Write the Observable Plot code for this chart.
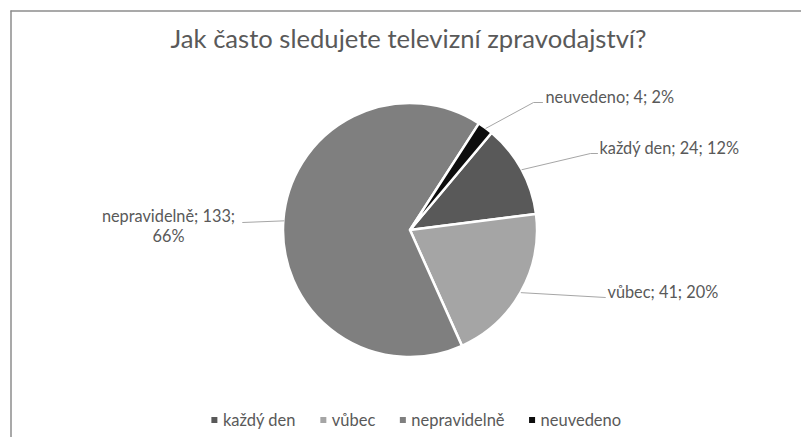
<!DOCTYPE html>
<html>
<head>
<meta charset="utf-8">
<script src="https://cdn.jsdelivr.net/npm/d3@7"></script>
<script src="https://cdn.jsdelivr.net/npm/@observablehq/plot@0.6"></script>
<style>
  body { margin: 0; background: #fff; }
  #chart svg { display: block; }
</style>
</head>
<body>
<div id="chart"></div>
<script>
// ---- data ----
const title = "Jak často sledujete televizní zpravodajství?";
const categories = ["každý den", "vůbec", "nepravidelně", "neuvedeno"];
const counts = [24, 41, 133, 4];
const percents = [12, 20, 66, 2];
const colors = ["#595959", "#a5a5a5", "#7f7f7f", "#0d0d0d"];

const data = categories.map((c, i) => ({category: c, count: counts[i], pct: percents[i]}));

// ---- layout ----
const W = 801, H = 437;
const FONT = "Lato, 'Open Sans', sans-serif";
const TEXT = "#595959";
const cx = 410, cy = 230, r = 127;
const firstSliceAngle = 40; // degrees, clockwise from 12 o'clock

const canvas = document.createElement("canvas").getContext("2d");
function measure(s, size) { canvas.font = `${size}px Lato`; return canvas.measureText(s).width; }
// fit font sizes to the reference's text widths (Calibri substitute)
const titleSize = 476 / measure(title, 100) * 100;
const labelSize = 140 / measure("každý den; 24; 12%", 100) * 100;
const legendSize = 73 / measure("každý den", 100) * 100;

const pie = d3.pie().sort(null).value(d => d.count)
  .startAngle(firstSliceAngle * Math.PI / 180)
  .endAngle((firstSliceAngle + 360) * Math.PI / 180);
const arcs = pie(data);
const mid = a => (a.startAngle + a.endAngle) / 2;
const edge = a => [cx + r * Math.sin(mid(a)), cy - r * Math.cos(mid(a))];

// label placement (Excel "best fit" look), offsets from pie centre
const labelLayout = {
  "neuvedeno":    {elbow: [123, -128], end: [132, -128], text: [135, -128], anchor: "start"},
  "každý den":    {elbow: [180, -77],  end: [187, -77],  text: [189, -77],  anchor: "start"},
  "vůbec":        {elbow: [195, 67],   end: [195, 67],   text: [197, 67],   anchor: "start"},
  "nepravidelně": {elbow: [-168, -8],  end: [-168, -8],  text: [-242, 11],  anchor: "middle"}
};

const leaders = arcs.flatMap(a => {
  const L = labelLayout[a.data.category];
  const e = edge(a);
  return [
    {category: a.data.category, x: e[0], y: e[1]},
    {category: a.data.category, x: cx + L.elbow[0], y: cy + L.elbow[1]},
    {category: a.data.category, x: cx + L.end[0], y: cy + L.end[1]}
  ];
});

const labels = arcs.map(a => {
  const L = labelLayout[a.data.category];
  const d = a.data;
  const txt = d.category === "nepravidelně"
    ? `${d.category}; ${d.count};\n${d.pct}%`
    : `${d.category}; ${d.count}; ${d.pct}%`;
  return {category: d.category, x: cx + L.text[0], y: cy + L.text[1], text: txt, anchor: L.anchor};
});

// legend items laid out from measured widths
const sq = 6, gapIn = 5, gapOut = 25, legendCenter = 416, legendY = 420;
const widths = categories.map(c => measure(c, legendSize));
const total = d3.sum(widths) + categories.length * (sq + gapIn) + gapOut * (categories.length - 1);
let lx = legendCenter - total / 2;
const legend = categories.map((c, i) => {
  const item = {category: c, x1: lx, x2: lx + sq, y1: legendY - sq / 2, y2: legendY + sq / 2, tx: lx + sq + gapIn};
  lx += sq + gapIn + widths[i] + gapOut;
  return item;
});

function pieMark(index, scales) {
  const color = scales.color || (c => colors[categories.indexOf(c)]);
  const arcGen = d3.arc().innerRadius(0).outerRadius(r);
  const g = d3.create("svg:g").attr("transform", `translate(${cx},${cy})`);
  g.selectAll("path").data(arcs).join("path")
    .attr("d", arcGen)
    .attr("fill", d => color(d.data.category))
    .attr("stroke", "#ffffff")
    .attr("stroke-width", 2.5)
    .attr("stroke-linejoin", "round");
  return g.node();
}

const chart = Plot.plot({
  width: W,
  height: H,
  margin: 0,
  x: {type: "identity", axis: null},
  y: {type: "identity", axis: null},
  color: {domain: categories, range: colors},
  style: {fontFamily: FONT, background: "#fff"},
  marks: [
    // chart area border (right/bottom lie outside the picture)
    Plot.ruleY([10.5], {x1: 10.5, x2: W, stroke: "#8c8c8c", strokeWidth: 1.5}),
    Plot.ruleX([10.5], {y1: 10.5, y2: H, stroke: "#8c8c8c", strokeWidth: 1.5}),
    // title
    Plot.text([title], {x: () => 408, y: () => 47, text: d => d, fontSize: titleSize,
      fill: TEXT, textAnchor: "middle", lineAnchor: "bottom"}),
    // pie slices
    pieMark,
    // leader lines
    Plot.line(leaders, {x: "x", y: "y", z: "category", stroke: "#a6a6a6", strokeWidth: 1}),
    // data labels
    Plot.text(labels.filter(d => d.anchor === "start"), {x: "x", y: "y", text: "text",
      fill: TEXT, fontSize: labelSize, textAnchor: "start", lineAnchor: "bottom"}),
    Plot.text(labels.filter(d => d.anchor === "middle"), {x: "x", y: "y", text: "text",
      fill: TEXT, fontSize: labelSize, textAnchor: "middle", lineAnchor: "bottom", lineHeight: 1.2}),
    // legend
    Plot.rect(legend, {x1: "x1", x2: "x2", y1: "y1", y2: "y2", fill: "category"}),
    Plot.text(legend, {x: "tx", y: () => legendY + 5.5, text: "category", fill: TEXT,
      fontSize: legendSize, textAnchor: "start", lineAnchor: "bottom"})
  ]
});

document.getElementById("chart").appendChild(chart);
</script>
</body>
</html>
